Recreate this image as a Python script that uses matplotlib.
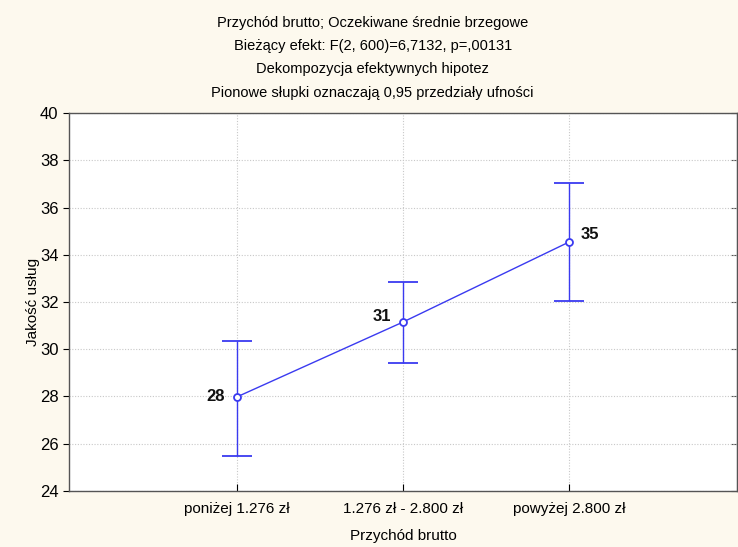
import matplotlib.pyplot as plt

plt.rcParams['font.family'] = ['Liberation Sans', 'DejaVu Sans']

# Marginal means of service quality by gross income group, with 95% CI
groups = ['poniżej 1.276 zł', '1.276 zł - 2.800 zł', 'powyżej 2.800 zł']
means = [27.98, 31.15, 34.54]
ci_low = [25.48, 29.42, 32.04]
ci_high = [30.35, 32.85, 37.04]

title_lines = ['Przychód brutto; Oczekiwane średnie brzegowe',
               'Bieżący efekt: F(2, 600)=6,7132, p=,00131',
               'Dekompozycja efektywnych hipotez',
               'Pionowe słupki oznaczają 0,95 przedziały ufności']

bg = '#fdf9ee'
blue = '#3a3af0'

fig = plt.figure(figsize=(7.38, 5.47), dpi=100, facecolor=bg)
ax = fig.add_axes([0.0935, 0.1024, 0.905, 0.691])
ax.set_facecolor('white')

x = list(range(len(groups)))
err = [[m - lo for m, lo in zip(means, ci_low)],
       [hi - m for m, hi in zip(means, ci_high)]]

ax.errorbar(x, means, yerr=err, color=blue, lw=1, ecolor=blue, elinewidth=1,
            capsize=11, capthick=1, marker='o', ms=5, mfc='white',
            mec=blue, mew=1.3, zorder=3)

# Value labels next to the points
offsets = [(-0.07, 'right', 0.0), (-0.07, 'right', 0.25), (0.07, 'left', 0.3)]
for xi, m, (dx, ha, dy) in zip(x, means, offsets):
    ax.text(xi + dx, m + dy, f'{m:.0f}', ha=ha, va='center',
            fontsize=12, fontweight='bold', color='#111111')

ax.set_xlim(-1.01, 3.01)
ax.set_ylim(24, 40)
ax.set_yticks(range(24, 41, 2))
ax.set_xticks(x)
ax.set_xticklabels(groups, fontsize=11)
ax.tick_params(axis='y', labelsize=12, direction='out', length=4)
ax.tick_params(axis='x', direction='in', length=5, pad=8)

# inward ticks on the right edge
sec = ax.secondary_yaxis('right')
sec.set_yticks(range(24, 41, 2))
sec.tick_params(direction='in', length=4, labelright=False, color='#555555')
sec.spines['right'].set_color('#555555')

ax.grid(True, linestyle=(0, (1, 1.5)), color='#c8c8c8', lw=0.8)
ax.set_axisbelow(True)
for s in ax.spines.values():
    s.set_color('#555555')
    s.set_linewidth(1)

ax.set_xlabel('Przychód brutto', fontsize=11, labelpad=9)
ax.set_ylabel('Jakość usług', fontsize=11, labelpad=0)

for i, line in enumerate(title_lines):
    fig.text(0.505, 0.958 - i * 0.0425, line, ha='center', va='center',
             fontsize=10.5)

fig.savefig('out.png', dpi=100, facecolor=bg)
